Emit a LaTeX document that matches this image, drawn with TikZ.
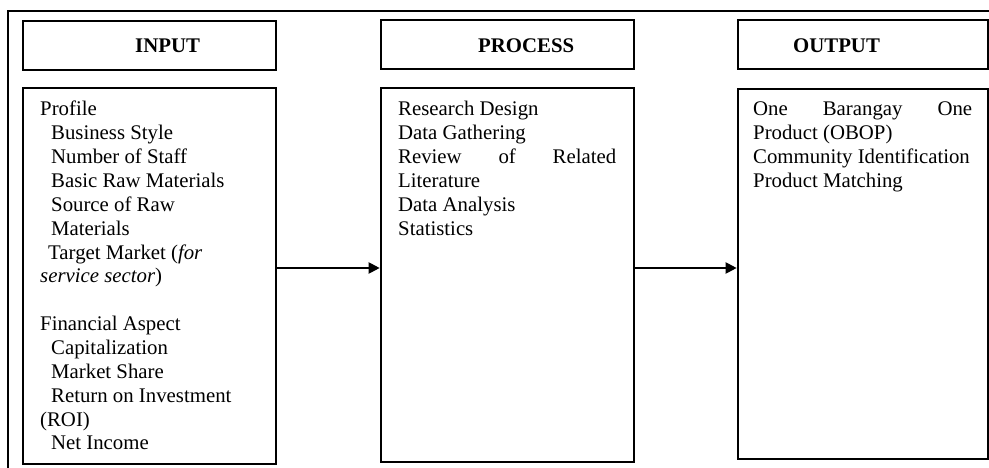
\documentclass[tikz,border=0pt]{standalone}
\usepackage{fontspec}
\setmainfont{Liberation Serif}
\usetikzlibrary{arrows.meta}
\begin{document}
\begin{tikzpicture}[x=1pt,y=-1pt,
  box/.style={draw=black,line width=2.6pt,rectangle,inner sep=0pt},
  headtxt/.style={anchor=base west,inner sep=0pt,font=\fontsize{20.8}{23.85}\selectfont\bfseries},
  bodytxt/.style={anchor=base west,inner sep=0pt,font=\fontsize{20.8}{23.85}\selectfont},
  arr/.style={line width=2pt,-{Triangle[length=11pt,width=11pt]}},
  frame/.style={line width=2.2pt}]
\useasboundingbox (0,0) rectangle (989,468);
% outer frame
\coordinate (fbl) at (8,470);
\coordinate (ftl) at (8,11);
\coordinate (ftr) at (991,11);
\draw[frame] (fbl) -- (ftl) -- (ftr);
% header boxes
\node[box,minimum width=253pt,minimum height=49pt] (inhead) at (149.5,45.5) {};
\node[box,minimum width=253pt,minimum height=49pt] (prhead) at (507.5,44.5) {};
\node[box,minimum width=250pt,minimum height=49pt] (outhead) at (863,44.5) {};
\node[headtxt] (inlab) at (135,53) {INPUT};
\node[headtxt] (prlab) at (478,53) {PROCESS};
\node[headtxt] (outlab) at (793,53) {OUTPUT};
% content boxes
\node[box,minimum width=253pt,minimum height=376pt] (inbox) at (149.5,276) {};
\node[box,minimum width=253pt,minimum height=374pt] (prbox) at (507.5,275) {};
\node[box,minimum width=250pt,minimum height=370pt] (outbox) at (863,274) {};
% texts
\node[bodytxt] (intxt) at (40,116) {\parbox[t]{218pt}{%
Profile\\
\hspace*{11pt}Business Style\\
\hspace*{11pt}Number of Staff\\
\hspace*{11pt}Basic Raw Materials\\
\hspace*{11pt}Source of Raw\\
\hspace*{11pt}Materials\\
\hspace*{8pt}Target Market (\textit{for}\\
\textit{service sector})\\
\mbox{}\\
Financial Aspect\\
\hspace*{11pt}Capitalization\\
\hspace*{11pt}Market Share\\
\hspace*{11pt}Return on Investment\\
(ROI)\\
\hspace*{11pt}Net Income}};
\node[bodytxt] (prtxt) at (398,116) {\parbox[t]{218pt}{%
Research Design\\
Data Gathering\\
Review\hfill of\hfill Related\\
Literature\\
Data Analysis\\
Statistics}};
\node[bodytxt] (outtxt) at (753,116) {\parbox[t]{219pt}{%
One\hfill Barangay\hfill One\\
Product (OBOP)\\
Community Identification\\
Product Matching}};
% arrows
\draw[arr] (inbox.east |- 0,268) -- (prbox.west |- 0,268);
\draw[arr] (prbox.east |- 0,268) -- (outbox.west |- 0,268);
\end{tikzpicture}
\end{document}
